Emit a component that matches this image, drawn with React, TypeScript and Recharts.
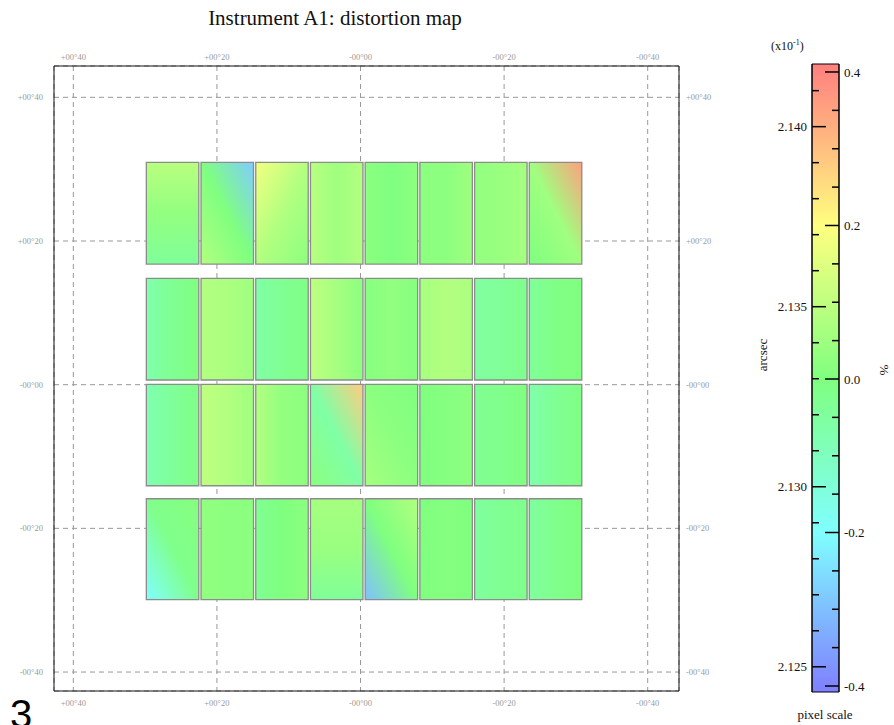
import React from "react";
import { CartesianGrid, ComposedChart, ReferenceArea, ScatterChart, XAxis, YAxis } from "recharts";

const TITLE = "Instrument A1: distortion map";

// sky axes (arcmin), x runs east -> west
const POS_TICKS = [40, 20, 0, -20, -40];
const POS_LABELS = ["+00°40", "+00°20", "-00°00", "-00°20", "-00°40"];
const X_DOMAIN = [-44.36, 42.69];
const Y_DOMAIN = [-42.64, 44.36];

// chip layout in arcmin
const COL_LEFT = [29.83, 22.21, 14.59, 6.97, -0.65, -8.27, -15.89, -23.51];
const COL_RIGHT = [22.52, 14.9, 7.28, -0.34, -7.96, -15.58, -23.2, -30.82];
const ROW_TOP = [30.95, 14.8, 0.05, -15.88];
const ROW_BOTTOM = [16.79, 0.65, -14.07, -29.93];

// distortion (%) along each chip: direction + start / middle / end
const CHIP_DIR = [
  ["down", "diagUp", "diagDown", "right", "right", "right", "right", "diagUp"],
  ["right", "right", "right", "right", "right", "right", "right", "right"],
  ["right", "right", "right", "diagUp", "diagUp", "right", "right", "right"],
  ["diagUp", "right", "right", "down", "diagUp", "right", "right", "right"],
];
const CHIP_VALUES = [
  [[0.09, 0.03, -0.04], [0.08, 0.0, -0.28], [0.18, 0.08, 0.02], [0.09, 0.05, 0.08], [0.02, 0.0, 0.02], [0.02, 0.02, 0.05], [0.03, 0.04, 0.06], [0.0, 0.05, 0.35]],
  [[-0.07, -0.03, 0.0], [0.08, 0.07, 0.05], [-0.06, -0.03, -0.01], [0.1, 0.06, 0.02], [0.01, 0.03, 0.01], [0.06, 0.08, 0.07], [-0.05, -0.04, -0.02], [-0.04, -0.01, 0.0]],
  [[-0.08, -0.04, -0.01], [0.1, 0.08, 0.05], [0.08, 0.03, 0.02], [0.02, -0.06, 0.28], [0.06, 0.02, 0.0], [0.0, 0.01, 0.02], [-0.03, -0.02, 0.0], [-0.07, -0.03, -0.01]],
  [[-0.2, -0.02, 0.01], [0.03, 0.02, 0.02], [-0.03, 0.0, 0.02], [0.06, 0.04, -0.04], [-0.3, 0.0, 0.08], [0.0, 0.01, 0.0], [-0.05, -0.03, -0.02], [-0.05, -0.02, 0.0]],
];

// colour bar
const PCT_DOMAIN = [-0.4078, 0.4104];
const PCT_TICKS = [-0.4, -0.35, -0.3, -0.25, -0.2, -0.15, -0.1, -0.05, 0, 0.05, 0.1, 0.15, 0.2, 0.25, 0.3, 0.35, 0.4];
const PCT_MAJOR = [-0.4, -0.2, 0, 0.2, 0.4];
const ARCSEC_DOMAIN = [2.1243, 2.14174];
const ARCSEC_TICKS = [2.125, 2.126, 2.127, 2.128, 2.129, 2.13, 2.131, 2.132, 2.133, 2.134, 2.135, 2.136, 2.137, 2.138, 2.139, 2.14, 2.141];
const ARCSEC_MAJOR = [2.125, 2.13, 2.135, 2.14];
const CBAR_STOPS = [0.4104, 0.3, 0.2, 0.1, 0, -0.1, -0.2, -0.3, -0.4078];

const SERIF = "'Liberation Serif', 'Times New Roman', serif";
const DIRS: Record<string, number[]> = {
  down: [0, 0, 0, 1],
  right: [0, 0, 1, 0],
  diagUp: [0, 1, 1, 0],
  diagDown: [0, 0, 1, 1],
};

function valueColor(v: number) {
  const hue = Math.max(0, Math.min(240, 120 - 300 * v));
  return `hsl(${hue}, 100%, 75%)`;
}

const isIn = (list: number[], v: number) => list.some((m) => Math.abs(m - v) < 1e-9);
const posLabel = (v: number) => POS_LABELS[POS_TICKS.indexOf(v)] ?? "";

const BAR_L = 72;
const BAR_R = 99;

function ArcsecTick(props: any) {
  const { y, payload } = props;
  const major = isIn(ARCSEC_MAJOR, payload.value);
  return (
    <g>
      <line x1={BAR_L} x2={BAR_L + (major ? 14 : 7)} y1={y} y2={y} stroke="#000" strokeWidth={1.5} />
      {major && (
        <text x={BAR_L - 5} y={y} dy="0.35em" textAnchor="end" fontSize={13} fontFamily={SERIF} fill="#111">
          {payload.value.toFixed(3)}
        </text>
      )}
    </g>
  );
}

function PctTick(props: any) {
  const { y, payload } = props;
  const major = isIn(PCT_MAJOR, payload.value);
  return (
    <g>
      <line x1={BAR_R - (major ? 14 : 7)} x2={BAR_R} y1={y} y2={y} stroke="#000" strokeWidth={1.5} />
      {major && (
        <text x={BAR_R + 5} y={y} dy="0.35em" textAnchor="start" fontSize={13} fontFamily={SERIF} fill="#111">
          {payload.value.toFixed(1)}
        </text>
      )}
    </g>
  );
}

const axisTick = { fill: "#9a9a9a", fontSize: 8.5, fontFamily: SERIF };

export default function App() {
  return (
    <div style={{ position: "absolute", left: 0, top: 0, width: 894, height: 725, overflow: "hidden", background: "#fff" }}>
      <div style={{ position: "absolute", left: 0, top: 6, width: 670, textAlign: "center", fontFamily: SERIF, fontSize: 21, color: "#111" }}>
        {TITLE}
      </div>

      <div style={{ position: "absolute", left: 0, top: 0 }}>
        <ScatterChart width={740} height={725} margin={{ top: 36, right: 0, bottom: 4, left: 0 }}>
          <defs>
            {CHIP_VALUES.map((row, r) =>
              row.map((vals, c) => {
                const d = DIRS[CHIP_DIR[r][c]];
                return (
                  <linearGradient key={`g${r}-${c}`} id={`chip-${r}-${c}`} x1={d[0]} y1={d[1]} x2={d[2]} y2={d[3]}>
                    {vals.map((v, i) => (
                      <stop key={i} offset={i / (vals.length - 1)} stopColor={valueColor(v)} />
                    ))}
                  </linearGradient>
                );
              })
            )}
          </defs>
          <XAxis xAxisId="bottom" dataKey="x" type="number" domain={X_DOMAIN} reversed allowDataOverflow ticks={POS_TICKS} interval={0}
            tickFormatter={posLabel} tick={axisTick} tickLine={false} tickSize={0} tickMargin={9} height={30}
            axisLine={{ stroke: "#111" }} />
          <XAxis xAxisId="top" dataKey="x" orientation="top" type="number" domain={X_DOMAIN} reversed allowDataOverflow ticks={POS_TICKS} interval={0}
            tickFormatter={posLabel} tick={axisTick} tickLine={false} tickSize={0} tickMargin={6} height={30}
            axisLine={{ stroke: "#111" }} />
          <YAxis yAxisId="left" dataKey="y" type="number" domain={Y_DOMAIN} allowDataOverflow ticks={POS_TICKS} interval={0}
            tickFormatter={posLabel} tick={axisTick} tickLine={false} tickSize={0} tickMargin={11} width={54}
            axisLine={{ stroke: "#111" }} />
          <YAxis yAxisId="right" dataKey="y" orientation="right" type="number" domain={Y_DOMAIN} allowDataOverflow ticks={POS_TICKS} interval={0}
            tickFormatter={posLabel} tick={axisTick} tickLine={false} tickSize={0} tickMargin={7} width={61}
            axisLine={{ stroke: "#111" }} />
          <CartesianGrid xAxisId="bottom" yAxisId="left" stroke="#999" strokeDasharray="5 4" />
          {ROW_TOP.map((top, r) =>
            COL_LEFT.map((left, c) => (
              <ReferenceArea
                key={`chip-${r}-${c}`}
                xAxisId="bottom"
                yAxisId="left"
                x1={left}
                x2={COL_RIGHT[c]}
                y1={ROW_BOTTOM[r]}
                y2={top}
                fill={`url(#chip-${r}-${c})`}
                fillOpacity={1}
                stroke="#8c8c8c"
                strokeWidth={1.3}
              />
            ))
          )}
        </ScatterChart>
      </div>

      <div style={{ position: "absolute", left: 740, top: 0 }}>
        <ComposedChart width={154} height={725} margin={{ top: 64, right: 0, bottom: 33, left: 0 }}>
          <defs>
            <linearGradient id="cbar" x1={0} y1={0} x2={0} y2={1}>
              {CBAR_STOPS.map((v) => (
                <stop
                  key={v}
                  offset={(PCT_DOMAIN[1] - v) / (PCT_DOMAIN[1] - PCT_DOMAIN[0])}
                  stopColor={valueColor(v)}
                />
              ))}
            </linearGradient>
          </defs>
          <XAxis xAxisId="cb" dataKey="x" type="number" domain={[0, 1]} allowDataOverflow hide />
          <YAxis yAxisId="arcsec" dataKey="y" type="number" domain={ARCSEC_DOMAIN} allowDataOverflow ticks={ARCSEC_TICKS} interval={0}
            tick={ArcsecTick} tickLine={false} width={72} axisLine={{ stroke: "#000" }} />
          <YAxis yAxisId="pct" dataKey="v" orientation="right" type="number" domain={PCT_DOMAIN} allowDataOverflow ticks={PCT_TICKS} interval={0}
            tick={PctTick} tickLine={false} width={55} axisLine={{ stroke: "#000" }} />
          <ReferenceArea xAxisId="cb" yAxisId="pct" x1={0} x2={1} y1={PCT_DOMAIN[0]} y2={PCT_DOMAIN[1]}
            fill="url(#cbar)" fillOpacity={1} stroke="#000" strokeWidth={1} />
        </ComposedChart>
      </div>

      <div style={{ position: "absolute", left: 771, top: 38, fontFamily: SERIF, fontSize: 12, color: "#111" }}>
        (x10<span style={{ fontSize: 8, verticalAlign: "super" }}>-1</span>)
      </div>
      <div style={{ position: "absolute", left: 763, top: 355, transform: "translate(-50%, -50%) rotate(-90deg)", fontFamily: SERIF, fontSize: 13, color: "#111", whiteSpace: "nowrap" }}>
        arcsec
      </div>
      <div style={{ position: "absolute", left: 884, top: 370, transform: "translate(-50%, -50%) rotate(90deg)", fontFamily: SERIF, fontSize: 13, color: "#111" }}>
        %
      </div>
      <div style={{ position: "absolute", left: 825, top: 715, transform: "translate(-50%, -50%)", fontFamily: SERIF, fontSize: 13, color: "#111", whiteSpace: "nowrap" }}>
        pixel scale
      </div>
      <div style={{ position: "absolute", left: 10, top: 694, fontFamily: "'Liberation Sans', Arial, sans-serif", fontSize: 40, lineHeight: 1, color: "#000" }}>
        3
      </div>
    </div>
  );
}
